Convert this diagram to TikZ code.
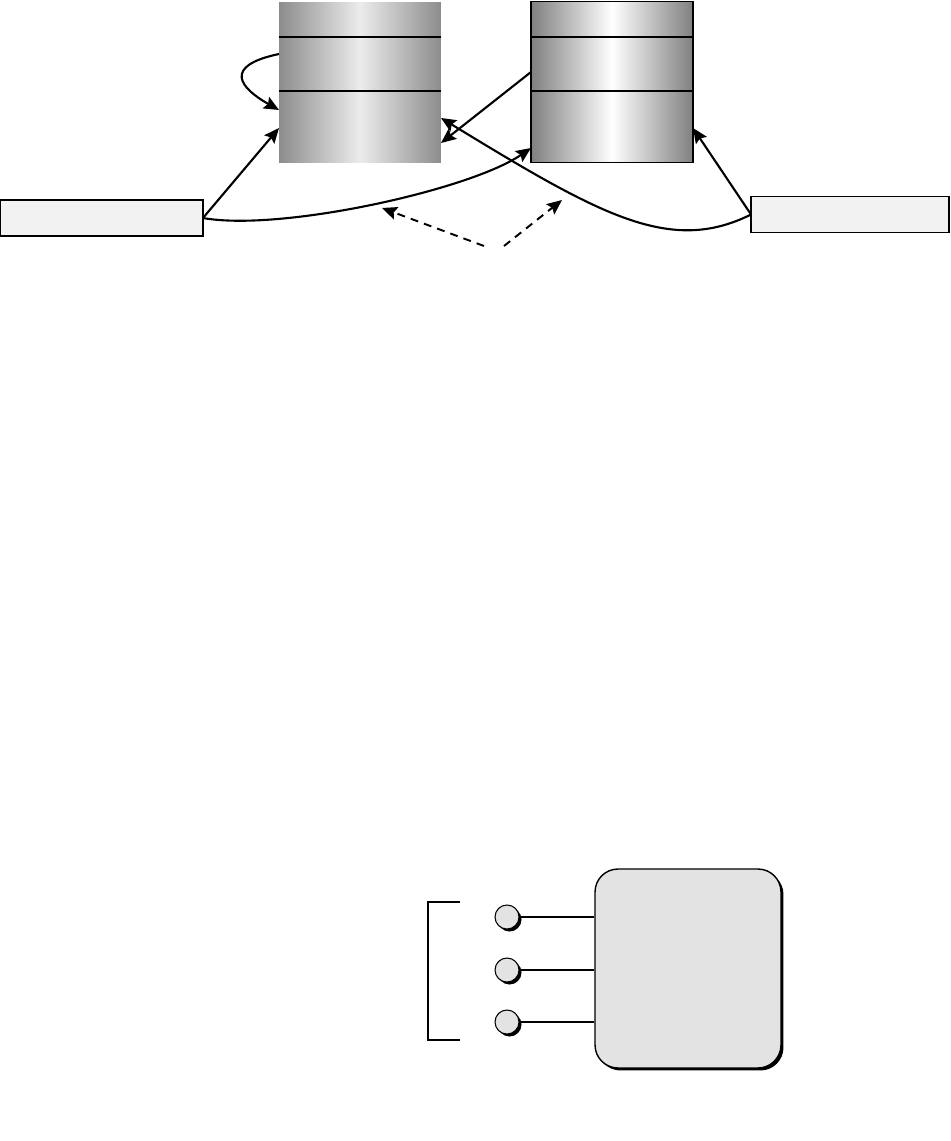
\documentclass[tikz,border=0pt]{standalone}
\usepackage{tikz}
\usetikzlibrary{calc}
\usetikzlibrary{shadows}
\usetikzlibrary{arrows.meta}

\begin{document}
\begin{tikzpicture}[x=0.02cm, y=-0.02cm, line width=1.1pt,
    >={Stealth[length=0.3cm, width=0.26cm, inset=0.05cm]}]

\useasboundingbox (0,0) rectangle (950,1141);

\tikzset{
    stackbox/.style={inner sep=0pt, outer sep=0pt, minimum width=3.24cm, minimum height=3.22cm},
    srcbox/.style={draw, fill=gray!10, inner sep=0pt, outer sep=0pt, minimum height=0.72cm},
    link/.style={->, line width=1.2pt},
    hint/.style={->, dash pattern=on 4.5pt off 3.5pt, line width=1.1pt},
    pin/.style={circle, draw, line width=0.6pt, fill=gray!22, minimum size=0.48cm, inner sep=0pt,
        drop shadow={shadow xshift=0.05cm, shadow yshift=-0.05cm, fill=black, opacity=1}},
    unit/.style={draw, line width=0.8pt, rounded corners=0.46cm, fill=gray!22, inner sep=0pt,
        minimum width=3.72cm, minimum height=3.98cm,
        drop shadow={shadow xshift=0.05cm, shadow yshift=-0.05cm, fill=black, opacity=1}}
}

% --- TOP SECTION: THE TWO STACKS ---
\node[stackbox, left color=gray!90, right color=gray!90, middle color=gray!15] (memA) at (360,82.5) {};
\node[stackbox, draw, left color=gray!100, right color=gray!100, middle color=white] (memB) at (612,82) {};

% slot dividers
\foreach \yy in {37,91} {
    \draw (memA.west |- 0,\yy) -- (memA.east |- 0,\yy);
    \draw (memB.west |- 0,\yy) -- (memB.east |- 0,\yy);
}

% side boxes
\node[srcbox, minimum width=4.06cm] (srcL) at (101.5,218) {};
\node[srcbox, minimum width=3.96cm] (srcR) at (850,214.5) {};

% connectors
\draw[link] (srcL.east) -- (memA.west |- 0,128);
\draw[link] (memA.west |- 0,54) .. controls (222,66) and (240,88) .. (memA.west |- 0,110);
\draw[link] (srcL.east) .. controls (280,232) and (470,190) .. (memB.west |- 0,148);
\draw[link] (memB.west |- 0,72) -- (memA.east |- 0,143);
\draw[link] (srcR.west) .. controls (670,255) and (600,215) .. (memA.east |- 0,118);
\draw[link] (srcR.west) -- (memB.east |- 0,128);

% dashed pointers
\coordinate (hintL) at (484,246);
\coordinate (hintR) at (504,246);
\coordinate (tipL) at (382,208);
\coordinate (tipR) at (562,200);
\draw[hint] (hintL) -- (tipL);
\draw[hint] (hintR) -- (tipR);

% --- BOTTOM SECTION: PINS AND UNIT ---
\node[unit] (core) at (688,968.5) {};

\foreach \yy [count=\i] in {917,970,1022} {
    \node[pin] (pin\i) at (507,\yy) {};
    \draw (pin\i.east) -- (core.west |- pin\i);
}

% bracket
\draw (460,902) -- (428,902) -- (428,1040) -- (460,1040);

\end{tikzpicture}
\end{document}
